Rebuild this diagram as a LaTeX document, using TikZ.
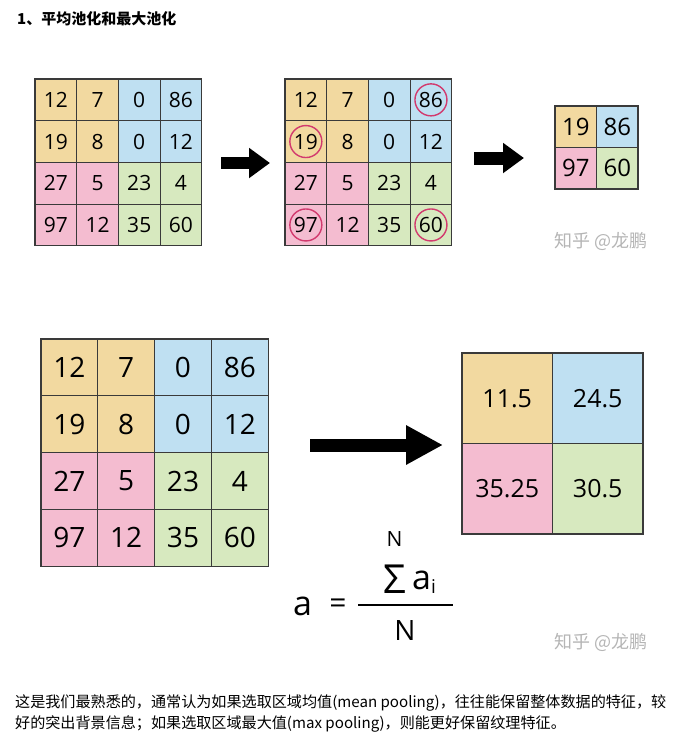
\documentclass[tikz,border=0pt]{standalone}
\usepackage{fontspec}
\setmainfont{Open Sans}
\newfontfamily\cjk{Noto Sans CJK SC}
\usetikzlibrary{positioning, arrows.meta}

\definecolor{quad00}{HTML}{F2D9A0}
\definecolor{quad01}{HTML}{BFE0F2}
\definecolor{quad10}{HTML}{F4BCD0}
\definecolor{quad11}{HTML}{D7E9BF}
\definecolor{gridln}{HTML}{3A3A3A}
\definecolor{ringred}{HTML}{D23A6E}
\definecolor{wmgray}{HTML}{B5B5B5}

% name, x0, y0, cell size, cells per row, font size, values
\newcommand{\poolgrid}[7]{%
  \foreach \v [count=\k from 0] in {#7} {
    \pgfmathtruncatemacro\gr{div(\k,#5)}
    \pgfmathtruncatemacro\gc{mod(\k,#5)}
    \pgfmathtruncatemacro\qr{\gr>=#5/2}
    \pgfmathtruncatemacro\qc{\gc>=#5/2}
    \node[cell, minimum size=#4pt, fill=quad\qr\qc,
          font=\fontsize{#6}{#6}\selectfont]
      (#1-\gr-\gc) at ({#2+(\gc+0.5)*#4}, {#3+(\gr+0.5)*#4}) {\v};
  }%
}

\begin{document}
\begin{tikzpicture}[
        x=1pt, y=-1pt,
        cell/.style = {draw=gridln, line width=1.1pt, inner sep=0pt, text=black},
        fatarrow/.style = {line width=#1, -{Triangle[length=21pt, width=29pt]}},
        ring/.style = {draw=ringred, line width=1.4pt},
        watermark/.style = {font=\cjk\fontsize{18}{18}\selectfont, text=wmgray},
        formula/.style = {inner sep=0pt, text=black},
        ]
    \useasboundingbox (0,0) rectangle (689,748);

    % title
    \node[anchor=west, inner sep=0pt, font=\cjk\bfseries\fontsize{15}{15}\selectfont]
        (title) at (17,19) {1、平均池化和最大池化};

    % max pooling
    \poolgrid{A}{35}{79}{41.7}{4}{21}{12,7,0,86,19,8,0,12,27,5,23,4,97,12,35,60}
    \poolgrid{B}{285}{79}{41.7}{4}{21}{12,7,0,86,19,8,0,12,27,5,23,4,97,12,35,60}
    \poolgrid{C}{555}{106}{41.5}{2}{24}{19,86,97,60}

    \foreach \n in {B-0-3, B-1-0, B-3-0, B-3-3}
        \draw[ring] (\n.center) circle (16pt);

    \coordinate (ar1s) at (221,163);
    \coordinate (ar1e) at (270,163);
    \coordinate (ar2s) at (474,158);
    \coordinate (ar2e) at (524,158);
    \draw[fatarrow=12pt] (ar1s) -- (ar1e);
    \draw[fatarrow=13pt] (ar2s) -- (ar2e);

    \node[watermark] (mark1) at (601,241) {知乎 @龙鹏};

    % mean pooling
    \poolgrid{D}{41}{339}{56.8}{4}{28}{12,7,0,86,19,8,0,12,27,5,23,4,97,12,35,60}
    \poolgrid{E}{462}{353}{90.5}{2}{25}{11.5,24.5,35.25,30.5}

    \coordinate (ar3s) at (310,445);
    \coordinate (ar3e) at (443,445);
    \draw[fatarrow=13pt, -{Triangle[length=37pt, width=37pt]}] (ar3s) -- (ar3e);

    % formula
    \node[formula, font=\fontsize{34}{34}\selectfont] (fa) at (302.5,606) {a};
    \node[formula, font=\fontsize{30}{30}\selectfont] (feq) at (338,606) {=};
    \coordinate (barl) at (358,605);
    \coordinate (barr) at (453,605);
    \draw[line width=1.6pt] (barl) -- (barr);
    \node[formula, font=\fontsize{21}{21}\selectfont] (ftop) at (394.5,539) {N};
    \node[formula, font=\fontsize{40}{40}\selectfont] (fsum) at (394.5,579) {Σ};
    \node[formula, font=\fontsize{34}{34}\selectfont] (fai) at (421.5,580) {a};
    \node[formula, font=\fontsize{19}{19}\selectfont] (fi) at (433.5,587) {i};
    \node[formula, font=\fontsize{28}{28}\selectfont] (fbot) at (405,630) {N};

    \node[watermark] (mark2) at (601,642) {知乎 @龙鹏};

    % caption
    \node[anchor=west, inner sep=0pt, font=\cjk\fontsize{15.1}{15.1}\selectfont]
        (line1) at (15,703) {这是我们最熟悉的，通常认为如果选取区域均值(mean pooling)，往往能保留整体数据的特征，较};
    \node[anchor=west, inner sep=0pt, font=\cjk\fontsize{15.1}{15.1}\selectfont]
        (line2) at (15,724) {好的突出背景信息；如果选取区域最大值(max pooling)，则能更好保留纹理特征。};
\end{tikzpicture}
\end{document}
